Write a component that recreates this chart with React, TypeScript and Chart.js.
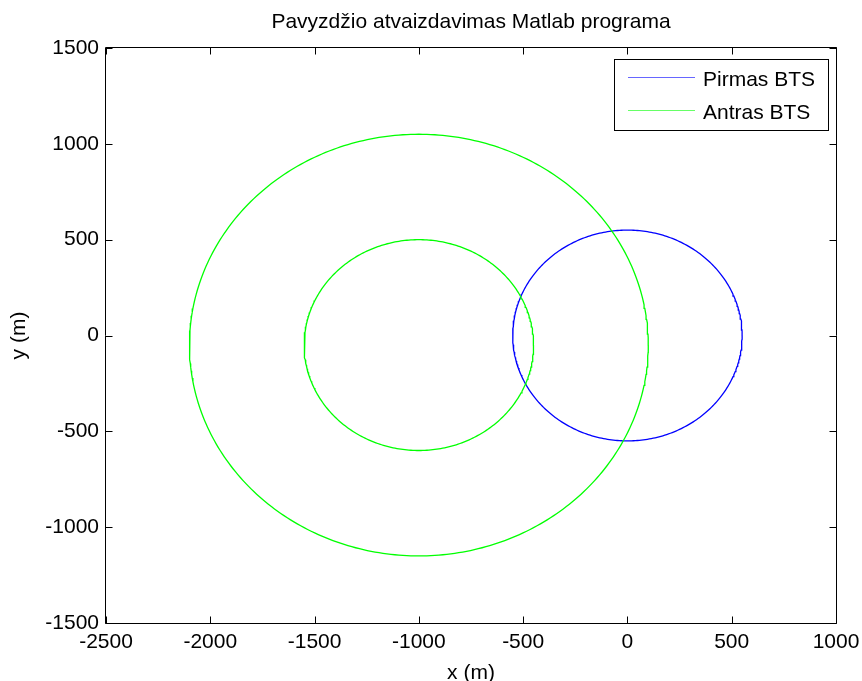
import React, { useEffect, useRef } from 'react';
import { Chart, registerables } from 'chart.js';

Chart.register(...registerables);

const TITLE = 'Pavyzdžio atvaizdavimas Matlab programa';
const X_LABEL = 'x (m)';
const Y_LABEL = 'y (m)';

const SERIES_NAMES = ['Pirmas BTS', 'Antras BTS'];
const SERIES_COLORS = ['#0000ff', '#00ff00'];

// circles: which series, centre and radius (metres)
const CIRCLE_SERIES = [0, 1, 1];
const CIRCLE_CX = [0, -1000, -1000];
const CIRCLE_CY = [0, -50, -50];
const CIRCLE_R = [550, 550, 1100];

const X_TICKS = [-2500, -2000, -1500, -1000, -500, 0, 500, 1000];
const Y_TICKS = [-1500, -1000, -500, 0, 500, 1000, 1500];

const SEGMENTS = 360;
const FONT_FAMILY = "'Liberation Sans', Arial, Helvetica, sans-serif";
const FONT_SIZE = 21;

function circlePoints(cx: number, cy: number, r: number) {
  const pts: { x: number; y: number | null }[] = [];
  for (let k = 0; k <= SEGMENTS; k++) {
    const t = (2 * Math.PI * k) / SEGMENTS;
    pts.push({ x: cx + r * Math.cos(t), y: cy + r * Math.sin(t) });
  }
  return pts;
}

const framePlugin = {
  id: 'matlabFrame',
  afterDatasetsDraw(chart: any) {
    const { ctx, chartArea: a, scales } = chart;
    const xs = scales.x;
    const ys = scales.y;
    const L = Math.round(a.left) - 0.5;
    const R = Math.round(a.right) + 0.5;
    const T = Math.round(a.top) - 0.5;
    const B = Math.round(a.bottom) + 0.5;
    const TL = 7;
    ctx.save();
    ctx.strokeStyle = '#000';
    ctx.lineWidth = 1;
    ctx.beginPath();
    ctx.rect(L, T, R - L, B - T);
    xs.ticks.forEach((t: any) => {
      const px = Math.round(xs.getPixelForValue(t.value)) + 0.5;
      ctx.moveTo(px, B);
      ctx.lineTo(px, B - TL);
      ctx.moveTo(px, T);
      ctx.lineTo(px, T + TL);
    });
    ys.ticks.forEach((t: any) => {
      const py = Math.round(ys.getPixelForValue(t.value)) + 0.5;
      ctx.moveTo(L, py);
      ctx.lineTo(L + TL, py);
      ctx.moveTo(R, py);
      ctx.lineTo(R - TL, py);
    });
    ctx.stroke();
    ctx.restore();
  },
};

const legendPlugin = {
  id: 'boxLegend',
  afterDraw(chart: any) {
    const { ctx, chartArea: a } = chart;
    const ds = chart.data.datasets;
    ctx.save();
    ctx.font = `${FONT_SIZE}px ${FONT_FAMILY}`;
    const textW = Math.max(...ds.map((d: any) => ctx.measureText(d.label).width));
    const padL = 14;
    const lineLen = 67;
    const gap = 8;
    const padR = 13;
    const padT = 18;
    const padB = 20;
    const rowH = 33;
    const w = Math.round(padL + lineLen + gap + textW + padR);
    const h = padT + rowH * (ds.length - 1) + padB;
    const right = Math.round(a.right) - 8;
    const top = Math.round(a.top) + 11;
    const left = right - w;
    ctx.fillStyle = '#fff';
    ctx.fillRect(left, top, w, h);
    ctx.strokeStyle = '#000';
    ctx.lineWidth = 1;
    ctx.strokeRect(left + 0.5, top + 0.5, w, h);
    ds.forEach((d: any, i: number) => {
      const yy = Math.round(top + padT + i * rowH) + 0.5;
      ctx.strokeStyle = d.borderColor;
      ctx.globalAlpha = 0.6;
      ctx.beginPath();
      ctx.moveTo(left + padL, yy);
      ctx.lineTo(left + padL + lineLen, yy);
      ctx.stroke();
      ctx.globalAlpha = 1;
      ctx.fillStyle = '#000';
      ctx.textAlign = 'left';
      ctx.textBaseline = 'middle';
      ctx.fillText(d.label, left + padL + lineLen + gap, yy + 2.5);
    });
    ctx.restore();
  },
};

export default function App() {
  const canvasRef = useRef<HTMLCanvasElement | null>(null);

  useEffect(() => {
    if (!canvasRef.current) return;
    const font = { family: FONT_FAMILY, size: FONT_SIZE, weight: 'normal' as const, lineHeight: 1.2 };

    const datasets = SERIES_NAMES.map((name, s) => {
      const data: { x: number; y: number | null }[] = [];
      CIRCLE_SERIES.forEach((ser, i) => {
        if (ser !== s) return;
        if (data.length) data.push({ x: CIRCLE_CX[i], y: null });
        data.push(...circlePoints(CIRCLE_CX[i], CIRCLE_CY[i], CIRCLE_R[i]));
      });
      return {
        label: name,
        data,
        borderColor: SERIES_COLORS[s],
        backgroundColor: SERIES_COLORS[s],
        borderWidth: 1.3,
        showLine: true,
        pointRadius: 0,
        pointHoverRadius: 0,
        fill: false,
        tension: 0,
        spanGaps: false,
        order: s === 0 ? 2 : 1,
      };
    });

    const chart = new Chart(canvasRef.current, {
      type: 'scatter',
      data: { datasets: datasets as any },
      options: {
        animation: false,
        responsive: false,
        events: [],
        layout: { padding: { left: 0, right: 26, top: 0, bottom: 0 } },
        plugins: {
          legend: { display: false },
          tooltip: { enabled: false },
          title: {
            display: true,
            text: TITLE,
            color: '#000',
            fullSize: false,
            font,
            padding: { top: 10, bottom: 12.8 },
          },
        },
        scales: {
          x: {
            type: 'linear',
            position: 'bottom',
            min: X_TICKS[0],
            max: X_TICKS[X_TICKS.length - 1],
            afterBuildTicks: (s: any) => {
              s.ticks = X_TICKS.map((v) => ({ value: v }));
            },
            afterFit: (s: any) => {
              s.height = 58;
              s.paddingLeft = 0;
              s.paddingRight = 0;
            },
            ticks: {
              color: '#000',
              font,
              padding: 7,
              autoSkip: false,
              maxRotation: 0,
              minRotation: 0,
              callback: (v: any) => String(v),
            },
            grid: { display: false, drawTicks: false },
            border: { display: false },
            title: {
              display: true,
              text: X_LABEL,
              color: '#000',
              font,
              padding: { top: 0, bottom: -4.5 },
            },
          },
          y: {
            type: 'linear',
            position: 'left',
            min: Y_TICKS[0],
            max: Y_TICKS[Y_TICKS.length - 1],
            afterBuildTicks: (s: any) => {
              s.ticks = Y_TICKS.map((v) => ({ value: v }));
            },
            afterFit: (s: any) => {
              s.width = 106;
              s.paddingTop = 0;
              s.paddingBottom = 0;
            },
            ticks: {
              color: '#000',
              font,
              padding: 7,
              autoSkip: false,
              callback: (v: any) => String(v),
            },
            grid: { display: false, drawTicks: false },
            border: { display: false },
            title: {
              display: true,
              text: Y_LABEL,
              color: '#000',
              font,
              padding: { top: 7, bottom: 0 },
            },
          },
        },
      } as any,
      plugins: [framePlugin, legendPlugin],
    });

    return () => chart.destroy();
  }, []);

  return (
    <div
      style={{
        position: 'fixed',
        left: 0,
        top: 0,
        width: 862,
        height: 681,
        background: '#fff',
        overflow: 'hidden',
      }}
    >
      <canvas ref={canvasRef} width={862} height={681} style={{ display: 'block' }} />
    </div>
  );
}
